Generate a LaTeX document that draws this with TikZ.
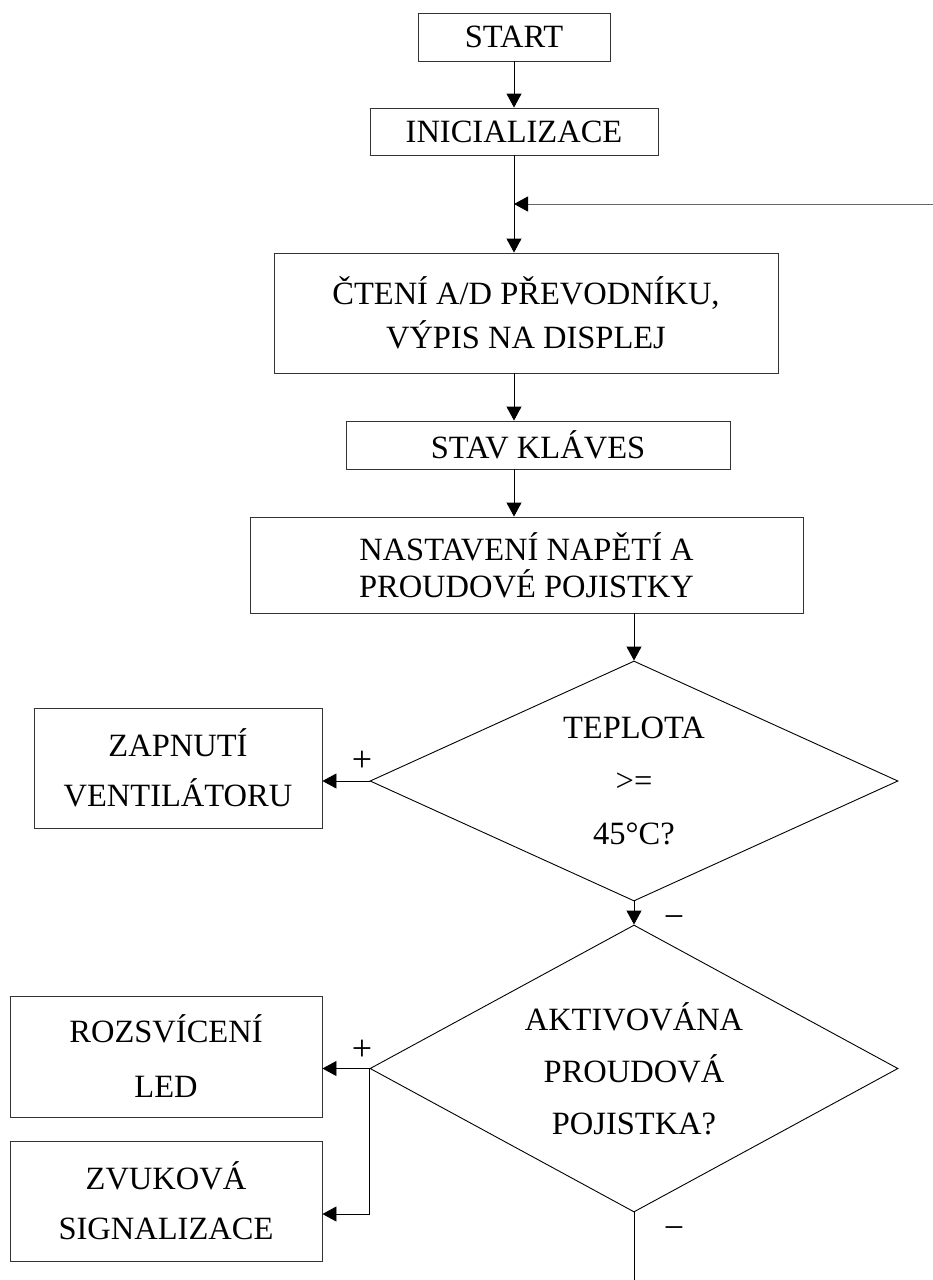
\documentclass[tikz,border=0pt]{standalone}
\usepackage{fontspec}
\setmainfont{Liberation Serif}
\usetikzlibrary{arrows.meta,shapes.geometric}

\begin{document}
\begin{tikzpicture}[x=1pt, y=-1pt,
		font=\fontsize{32.5}{37}\selectfont,
		box/.style={draw=black!80, line width=0.9pt, rectangle, inner sep=0pt, align=center},
		decision/.style={draw, line width=0.9pt, diamond, aspect=2, inner sep=0pt, align=center},
		arr/.style={line width=0.9pt, -{Triangle[length=14pt,width=15pt,color=black]}},
		sign/.style={inner sep=0pt, font=\fontsize{36}{40}\selectfont}]
		%%%%% START %%%%%
		\useasboundingbox (0,0) rectangle (933,1280);
		
		\node[box, minimum width=192pt, minimum height=48pt] (start) at (514,37) {START};
		\node[box, minimum width=288pt, minimum height=47pt] (init) at (514,131.5) {INICIALIZACE};
		\node[box, minimum width=504pt, minimum height=120pt] (read) at (526,313)
			{ČTENÍ A/D PŘEVODNÍKU,\\[7pt] VÝPIS NA DISPLEJ};
		\node[box, minimum width=384pt, minimum height=48pt] (keys) at (538,445) {STAV KLÁVES};
		\node[box, minimum width=553pt, minimum height=96pt] (setup) at (526.5,565)
			{NASTAVENÍ NAPĚTÍ A\\ PROUDOVÉ POJISTKY};
		
		\node[decision, minimum width=528pt, minimum height=240pt] (temp) at (634,781)
			{TEPLOTA\\[16pt] >=\\[16pt] 45°C?};
		\node[decision, minimum width=528pt, minimum height=287pt] (fuse) at (634,1068.5)
			{AKTIVOVÁNA\\[15pt] PROUDOVÁ\\[15pt] POJISTKA?};
		
		\node[box, minimum width=288pt, minimum height=120pt] (fan) at (178,768)
			{ZAPNUTÍ\\[13pt] VENTILÁTORU};
		\node[box, minimum width=312pt, minimum height=121pt] (led) at (166,1056.5)
			{ROZSVÍCENÍ\\[18pt] LED};
		\node[box, minimum width=312pt, minimum height=120pt] (beep) at (166,1201)
			{ZVUKOVÁ\\[13pt] SIGNALIZACE};
		
		\node[sign] (plusa) at (362,761) {+};
		\node[sign] (plusb) at (362,1050) {+};
		\node[sign] (minusa) at (674,922) {−};
		\node[sign] (minusb) at (674,1233) {−};
		
		\coordinate (loop) at (933,204);
		\coordinate (stop) at (634,1280);
		
		\draw[arr] (start) -- (init);
		\draw[arr] (init.south) -- (init.south |- read.north);
		\draw[arr, draw=black!60] (loop) -- (loop -| init.south);
		\draw[arr] (read.south -| init.south) -- (init.south |- keys.north);
		\draw[arr] (keys.south -| init.south) -- (init.south |- setup.north);
		\draw[arr] (setup.south -| temp.north) -- (temp.north);
		\draw[arr] (temp.west) -- (temp.west -| fan.east);
		\draw[arr] (temp.south) -- (fuse.north);
		\draw[arr] (fuse.west) -- (fuse.west -| led.east);
		\draw[arr] (fuse.west) |- ([yshift=-13pt]beep.east);
		\draw[line width=0.9pt] (fuse.south) -- (stop);
		%%%%% END %%%%%
	\end{tikzpicture}
\end{document}
